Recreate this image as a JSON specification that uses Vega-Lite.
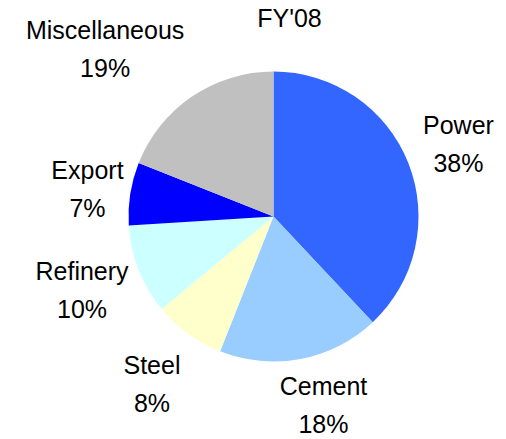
{
  "$schema": "https://vega.github.io/schema/vega-lite/v6.json",
  "width": 465,
  "height": 433,
  "autosize": "none",
  "padding": {"left": 41, "top": 0, "right": 0, "bottom": 6},
  "background": "white",
  "title": {
    "text": "FY'08",
    "font": "Liberation Sans",
    "fontSize": 25,
    "fontWeight": "normal",
    "color": "black",
    "anchor": "middle",
    "offset": -32,
    "dx": 16
  },
  "data": {
    "values": [
      {"name": "Power", "value": 38, "order": 1},
      {"name": "Cement", "value": 18, "order": 2},
      {"name": "Steel", "value": 8, "order": 3},
      {"name": "Refinery", "value": 10, "order": 4},
      {"name": "Export", "value": 7, "order": 5},
      {"name": "Miscellaneous", "value": 19, "order": 6}
    ]
  },
  "transform": [
    {"calculate": "[datum.name, datum.value + '%']", "as": "label"}
  ],
  "encoding": {
    "theta": {"field": "value", "type": "quantitative", "stack": true},
    "order": {"field": "order", "type": "quantitative"}
  },
  "layer": [
    {
      "mark": {"type": "arc", "outerRadius": 145},
      "encoding": {
        "color": {
          "field": "name",
          "type": "nominal",
          "scale": {
            "domain": ["Power", "Cement", "Steel", "Refinery", "Export", "Miscellaneous"],
            "range": ["#3366FF", "#99CCFF", "#FFFFCC", "#CCFFFF", "#0000FF", "#C0C0C0"]
          },
          "legend": null
        }
      }
    },
    {
      "mark": {
        "type": "text",
        "radius": 200,
        "dx": {"expr": "({'Power': -1, 'Cement': 12.5, 'Steel': -4, 'Refinery': -5.5, 'Export': 11.5, 'Miscellaneous': -56})[datum.name] || 0"},
        "dy": {"expr": "-19 + (({'Power': 2, 'Cement': -7, 'Steel': 6.5, 'Refinery': 1, 'Export': 5, 'Miscellaneous': -1.5})[datum.name] || 0)"},
        "font": "Liberation Sans",
        "fontSize": 25,
        "lineHeight": 38,
        "color": "black",
        "align": "center",
        "baseline": "middle"
      },
      "encoding": {"text": {"field": "label"}}
    }
  ]
}
